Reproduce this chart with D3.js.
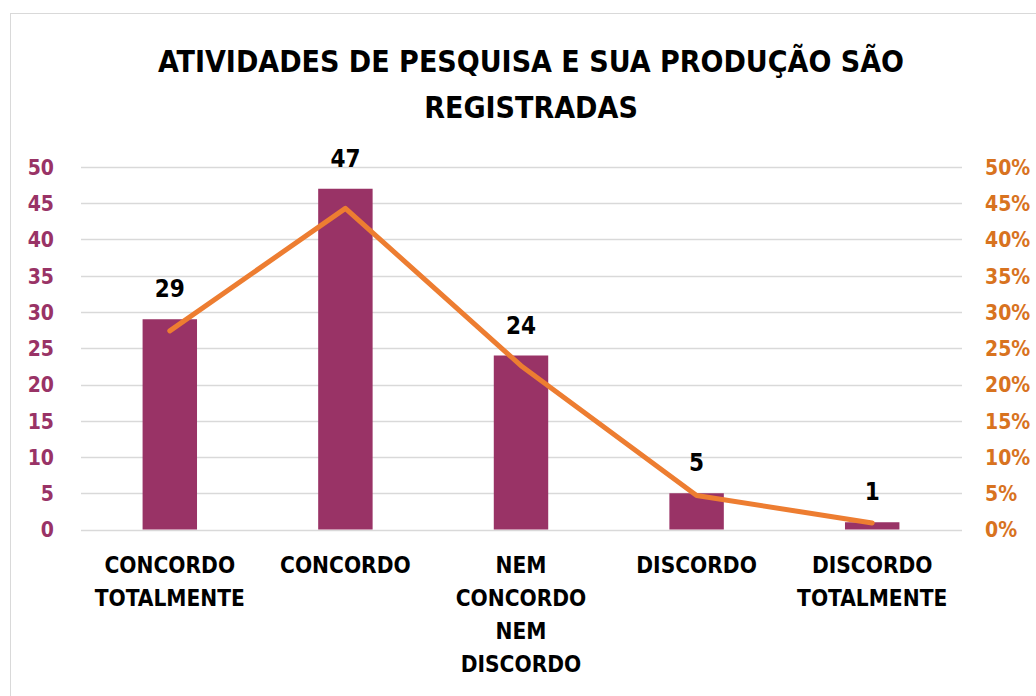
<!DOCTYPE html>
<html>
<head>
<meta charset="utf-8">
<script src="https://cdn.jsdelivr.net/npm/d3@7"></script>
<style>
  body { margin: 0; background: #fff; }
  svg { display: block; }
  text { font-family: "Liberation Sans Narrow", "DejaVu Sans Condensed", "Liberation Sans", sans-serif; }
</style>
</head>
<body>
<svg id="chart" width="1036" height="696"></svg>
<script>
const titleLines = ["ATIVIDADES DE PESQUISA E SUA PRODUÇÃO SÃO", "REGISTRADAS"];
const categories = ["CONCORDO TOTALMENTE", "CONCORDO", "NEM CONCORDO NEM DISCORDO", "DISCORDO", "DISCORDO TOTALMENTE"];
const categoryLines = [["CONCORDO", "TOTALMENTE"], ["CONCORDO"], ["NEM", "CONCORDO", "NEM", "DISCORDO"], ["DISCORDO"], ["DISCORDO", "TOTALMENTE"]];
const counts = [29, 47, 24, 5, 1];
const percents = [27.4, 44.3, 22.6, 4.7, 0.9];
const leftTicks = [0, 5, 10, 15, 20, 25, 30, 35, 40, 45, 50];
const rightTicks = [0, 5, 10, 15, 20, 25, 30, 35, 40, 45, 50];

const svg = d3.select("#chart");
const W = 1036, H = 696;
const plot = { left: 82, right: 960, top: 167, bottom: 529.5 };
const barColor = "#993366", lineColor = "#ED7D31";
const leftColor = "#993366", rightColor = "#D8731F";

// chart border
svg.append("rect").attr("x", 10.5).attr("y", 13.5).attr("width", W).attr("height", H)
  .attr("fill", "#fff").attr("stroke", "#d9d9d9").attr("stroke-width", 1);

const x = d3.scaleBand().domain(categories).range([plot.left, plot.right]).paddingInner(0.69).paddingOuter(0.345);
const y = d3.scaleLinear().domain([0, 50]).range([plot.bottom, plot.top]);
const y2 = d3.scaleLinear().domain([0, 50]).range([plot.bottom, plot.top]);

// gridlines
svg.append("g").selectAll("line").data(leftTicks).join("line")
  .attr("x1", 81).attr("x2", 962)
  .attr("y1", d => Math.round(y(d)) + 0.5).attr("y2", d => Math.round(y(d)) + 0.5)
  .attr("stroke", "#d9d9d9").attr("stroke-width", 1.5);

// left axis
const gl = svg.append("g").attr("transform", `translate(${plot.left - 10},0)`)
  .call(d3.axisLeft(y).tickValues(leftTicks).tickSize(0).tickPadding(0).tickFormat(d3.format("d")));
gl.select(".domain").remove();
gl.selectAll("text").attr("fill", leftColor).style("font-size", "21px").style("font-weight", "bold")
  .attr("x", -18).attr("text-anchor", "end").attr("dy", "0.35em");

// right axis
const gr = svg.append("g").attr("transform", `translate(${plot.right + 10},0)`)
  .call(d3.axisRight(y2).tickValues(rightTicks).tickSize(0).tickPadding(0).tickFormat(d => d + "%"));
gr.select(".domain").remove();
gr.selectAll("text").attr("fill", rightColor).style("font-size", "21px").style("font-weight", "bold")
  .attr("x", 15).attr("dy", "0.35em");

// bars
svg.append("g").selectAll("rect").data(counts).join("rect")
  .attr("x", (d, i) => x(categories[i]))
  .attr("width", x.bandwidth())
  .attr("y", d => y(d))
  .attr("height", d => y(0) - y(d))
  .attr("fill", barColor);

// line
const line = d3.line().x((d, i) => x(categories[i]) + x.bandwidth() / 2).y(d => y2(d));
svg.append("path").datum(percents).attr("d", line)
  .attr("fill", "none").attr("stroke", lineColor).attr("stroke-width", 5)
  .attr("stroke-linejoin", "round").attr("stroke-linecap", "round");

// data labels
svg.append("g").selectAll("text").data(counts).join("text")
  .attr("x", (d, i) => x(categories[i]) + x.bandwidth() / 2)
  .attr("y", d => y(d) - 22)
  .attr("text-anchor", "middle")
  .style("font-size", "24px").style("font-weight", "bold").attr("fill", "#000")
  .text(d => d);

// category labels
const cg = svg.append("g");
categoryLines.forEach((lines, i) => {
  const t = cg.append("text")
    .attr("x", x(categories[i]) + x.bandwidth() / 2)
    .attr("y", 573)
    .attr("text-anchor", "middle")
    .style("font-size", "22.5px").style("font-weight", "bold").attr("fill", "#000");
  lines.forEach((l, j) => {
    t.append("tspan").attr("x", x(categories[i]) + x.bandwidth() / 2).attr("dy", j === 0 ? 0 : 33).text(l);
  });
});

// title
const tt = svg.append("text").attr("x", 531).attr("y", 72).attr("text-anchor", "middle")
  .style("font-size", "30px").style("font-weight", "bold").attr("fill", "#000");
titleLines.forEach((l, j) => {
  tt.append("tspan").attr("x", 531).attr("dy", j === 0 ? 0 : 46).text(l);
});
</script>
</body>
</html>
